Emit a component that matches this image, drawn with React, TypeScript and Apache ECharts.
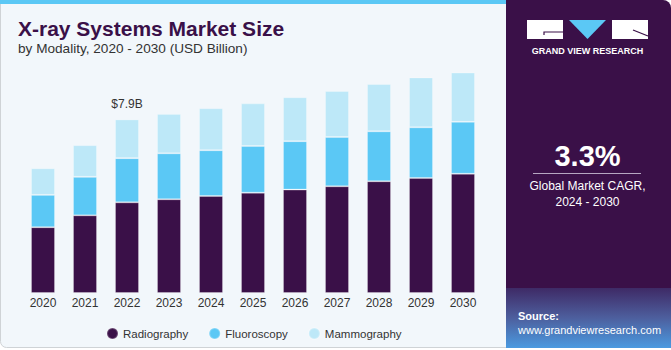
import React, { useEffect, useRef } from "react";
import * as echarts from "echarts";

const years = ["2020", "2021", "2022", "2023", "2024", "2025", "2026", "2027", "2028", "2029", "2030"];
const radiography = [2.99, 3.53, 4.12, 4.26, 4.41, 4.56, 4.7, 4.85, 5.08, 5.23, 5.42];
const fluoroscopy = [1.47, 1.75, 2.01, 2.09, 2.08, 2.12, 2.2, 2.24, 2.27, 2.3, 2.36];
const mammography = [1.21, 1.44, 1.76, 1.79, 1.91, 1.94, 2.0, 2.09, 2.15, 2.27, 2.36];
const highlightIndex = 2;
const highlightLabel = "$7.9B";

const FONT = "'Liberation Sans', Arial, sans-serif";
const PURPLE = "#3a1048";
const BLUE = "#5bc8f5";
const LIGHT = "#bde8f8";

export default function App() {
  const ref = useRef<HTMLDivElement>(null);
  useEffect(() => {
    document.body.style.margin = "0";
    const chart = echarts.init(ref.current!, null, { renderer: "svg" });
    const mammoData = mammography.map((v, i) =>
      i === highlightIndex
        ? {
            value: v,
            label: {
              show: true,
              position: "top",
              distance: 9,
              formatter: highlightLabel,
              color: "#333",
              fontSize: 12,
              fontFamily: FONT,
            },
          }
        : v
    );
    const barStyle = (c: string) => ({ color: c, borderColor: "rgba(255,255,255,0.25)", borderWidth: 1 });
    chart.setOption({
      animation: false,
      backgroundColor: "#ffffff",
      textStyle: { fontFamily: FONT },
      grid: { left: 22, right: 187, top: 73, bottom: 57 },
      xAxis: {
        type: "category",
        data: years,
        axisLine: { show: false },
        axisTick: { show: false },
        axisLabel: { color: "#333", fontSize: 12, margin: 4, fontFamily: FONT },
      },
      yAxis: { type: "value", min: 0, max: 10, show: false, splitLine: { show: false } },
      legend: {
        left: 101,
        top: 322,
        icon: "circle",
        itemWidth: 11,
        itemHeight: 11,
        itemGap: 20,
        textStyle: { color: "#333", fontSize: 11.5, fontFamily: FONT },
        data: ["Radiography", "Fluoroscopy", "Mammography"],
      },
      series: [
        { name: "Radiography", type: "bar", stack: "t", barWidth: 24, itemStyle: barStyle(PURPLE), data: radiography },
        { name: "Fluoroscopy", type: "bar", stack: "t", barWidth: 24, itemStyle: barStyle(BLUE), data: fluoroscopy },
        { name: "Mammography", type: "bar", stack: "t", barWidth: 24, itemStyle: barStyle(LIGHT), data: mammoData },
      ],
      graphic: [
        {
          type: "rect",
          z: -10,
          silent: true,
          shape: { x: 0.5, y: 0.5, width: 520, height: 347, r: [0, 0, 0, 6] },
          style: { fill: "#f2f7fb", stroke: "#cfd3d6", lineWidth: 1 },
        },
        {
          type: "rect",
          z: -9,
          silent: true,
          shape: { x: 0, y: 0, width: 510, height: 4 },
          style: { fill: BLUE },
        },
        {
          type: "rect",
          z: -8,
          silent: true,
          shape: { x: 506, y: 0, width: 165, height: 348, r: [0, 8, 0, 0] },
          style: { fill: PURPLE },
        },
        {
          type: "rect",
          z: -7,
          silent: true,
          shape: { x: 506, y: 288, width: 165, height: 60 },
          style: {
            fill: new echarts.graphic.LinearGradient(0, 0, 0, 1, [
              { offset: 0, color: "#3e2a66" },
              { offset: 0.5, color: "#4d5f9e" },
              { offset: 1, color: "#4a9ae0" },
            ]),
          },
        },
        // title
        {
          type: "text",
          left: 18,
          top: 18,
          style: { text: "X-ray Systems Market Size", fill: PURPLE, font: `bold 21px ${FONT}` },
        },
        {
          type: "text",
          left: 18,
          top: 41,
          style: { text: "by Modality, 2020 - 2030 (USD Billion)", fill: "#333", font: `13.6px ${FONT}` },
        },
        // logo
        { type: "rect", shape: { x: 527, y: 20, width: 36, height: 19 }, style: { fill: "#ffffff" } },
        {
          type: "polyline",
          shape: { points: [[563, 32], [544, 32], [544, 35]] },
          style: { stroke: PURPLE, lineWidth: 1.2, fill: "none" },
        },
        {
          type: "polygon",
          shape: { points: [[569, 20], [606, 20], [587.5, 39]] },
          style: { fill: BLUE },
        },
        { type: "rect", shape: { x: 612, y: 20, width: 36, height: 19 }, style: { fill: "#ffffff" } },
        {
          type: "line",
          shape: { x1: 633, y1: 30, x2: 648, y2: 36 },
          style: { stroke: PURPLE, lineWidth: 1.2 },
        },
        {
          type: "text",
          x: 587.5,
          y: 51,
          style: {
            text: "GRAND VIEW RESEARCH",
            fill: "#ffffff",
            font: `bold 9px ${FONT}`,
            align: "center",
            verticalAlign: "middle",
          },
        },
        // CAGR
        {
          type: "text",
          x: 587.5,
          y: 156,
          style: { text: "3.3%", fill: "#ffffff", font: `bold 29px ${FONT}`, align: "center", verticalAlign: "middle" },
        },
        {
          type: "line",
          shape: { x1: 533, y1: 173.5, x2: 641, y2: 173.5 },
          style: { stroke: "#b6a6c2", lineWidth: 1 },
        },
        {
          type: "text",
          x: 587.5,
          y: 186,
          style: { text: "Global Market CAGR,", fill: "#ffffff", font: `12px ${FONT}`, align: "center", verticalAlign: "middle" },
        },
        {
          type: "text",
          x: 587.5,
          y: 202,
          style: { text: "2024 - 2030", fill: "#ffffff", font: `12px ${FONT}`, align: "center", verticalAlign: "middle" },
        },
        // source
        {
          type: "text",
          x: 518,
          y: 316,
          style: { text: "Source:", fill: "#ffffff", font: `bold 11px ${FONT}`, verticalAlign: "middle" },
        },
        {
          type: "text",
          x: 518,
          y: 330,
          style: { text: "www.grandviewresearch.com", fill: "#ffffff", font: `11px ${FONT}`, verticalAlign: "middle" },
        },
      ],
    });
    return () => chart.dispose();
  }, []);
  return <div ref={ref} style={{ width: 671, height: 350 }} />;
}
